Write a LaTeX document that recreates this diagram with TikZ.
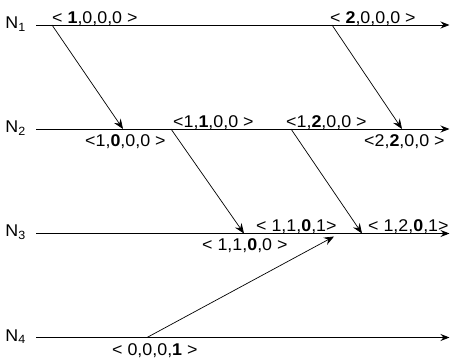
\documentclass[tikz,border=0pt]{standalone}
\usepackage{fontspec}
\setmainfont{Liberation Sans}[FakeStretch=1.05]
\usetikzlibrary{arrows.meta}

\tikzset{
	msg/.style={line width=0.7pt, -{Stealth[length=10pt,width=8pt,inset=3.5pt]}},
	proc/.style={line width=0.9pt, -{Stealth[length=9pt,width=7pt,inset=3pt]}},
	stamp/.style={inner sep=0pt, font=\fontsize{17}{20}\selectfont}
}

\begin{document}
\begin{tikzpicture}[x=1pt,y=-1pt]
	\useasboundingbox (0,0) rectangle (450,358);
	\foreach \i/\y in {1/25, 2/129, 3/233.5, 4/337.5} {
		\coordinate (s\i) at (36,\y);
		\coordinate (e\i) at (449.5,\y);
		\node[stamp, anchor=base east] (n\i) at (26,\y+3.5) {N\textsubscript{\i}};
		\draw[proc] (s\i) -- (e\i);
	}
	
	% send and receive events
	\coordinate (a1) at (52,25);    \coordinate (b1) at (123,129);
	\coordinate (a2) at (332,25);   \coordinate (b2) at (402,129);
	\coordinate (b3) at (171,129);  \coordinate (c1) at (244,233.5);
	\coordinate (b4) at (291,129);  \coordinate (c2) at (362,233.5);
	\coordinate (d1) at (147,337.5); \coordinate (c3) at (334,236.5);
	\draw[msg] (a1) -- (b1);
	\draw[msg] (a2) -- (b2);
	\draw[msg] (b3) -- (c1);
	\draw[msg] (b4) -- (c2);
	\draw[msg] (d1) -- (c3);
	
	% vector timestamps
	\node[stamp, anchor=base west] (t11) at (52,23.5) {< \textbf{1},0,0,0 >};
	\node[stamp, anchor=base west] (t12) at (330,23.5) {< \textbf{2},0,0,0 >};
	\node[stamp, anchor=base west] (t21) at (85,146.5) {<1,\textbf{0},0,0 >};
	\node[stamp, anchor=base west] (t22) at (173,127.5) {<1,\textbf{1},0,0 >};
	\node[stamp, anchor=base west] (t23) at (286,127.5) {<1,\textbf{2},0,0 >};
	\node[stamp, anchor=base west] (t24) at (364,146.5) {<2,\textbf{2},0,0 >};
	\node[stamp, anchor=base west] (t31) at (256,232) {< 1,1,\textbf{0},1>};
	\node[stamp, anchor=base west] (t32) at (368,232) {< 1,2,\textbf{0},1>};
	\node[stamp, anchor=base west] (t33) at (202,251) {< 1,1,\textbf{0},0 >};
	\node[stamp, anchor=base west] (t41) at (112,355) {< 0,0,0,\textbf{1} >};
\end{tikzpicture}
\end{document}
